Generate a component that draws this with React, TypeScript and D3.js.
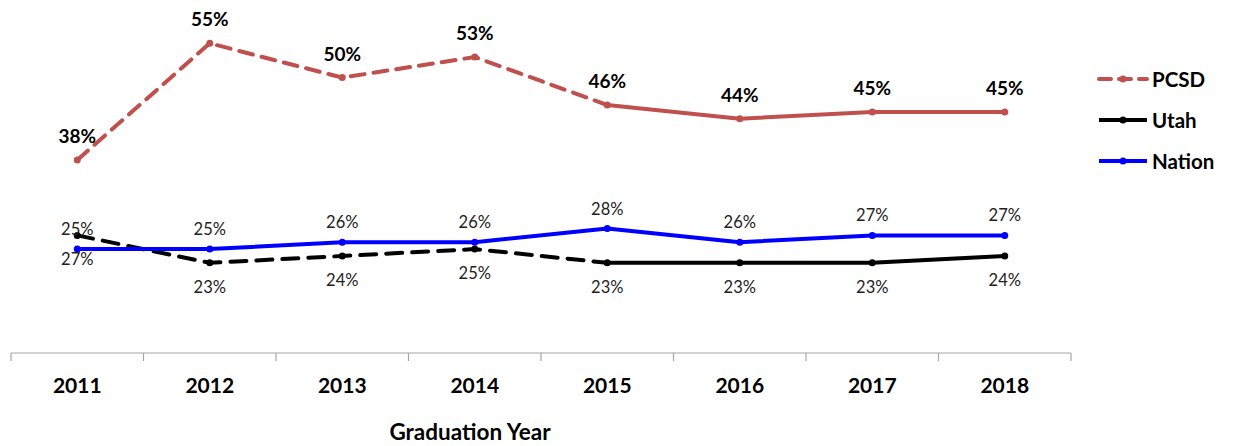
import React from "react";
import * as d3 from "d3";

const years = ["2011", "2012", "2013", "2014", "2015", "2016", "2017", "2018"];
const pcsd = [38, 55, 50, 53, 46, 44, 45, 45];
const utah = [27, 23, 24, 25, 23, 23, 23, 24];
const nation = [25, 25, 26, 26, 28, 26, 27, 27];
const dashedUntil = "2015"; // segments before this year are dashed
const seriesNames = ["PCSD", "Utah", "Nation"];
const xTitle = "Graduation Year";

const W = 1234;
const H = 446;
const FONT = "Lato, 'Open Sans', 'Liberation Sans', sans-serif";

type Series = {
  name: string;
  values: number[];
  color: string;
  width: number;
  dash: string | null;
  labelPos: "above" | "below";
  labelBold: boolean;
  labelSize: number;
  labelOffset: number;
};

export default function App() {
  const x = d3.scaleBand<string>().domain(years).range([11, 1071]);
  const y = d3.scaleLinear().domain([10, 60]).range([352, 9]);
  const cx = (yr: string) => (x(yr) as number) + x.bandwidth() / 2;

  const series: Series[] = [
    { name: seriesNames[0], values: pcsd, color: "#C0504D", width: 4, dash: "14,9", labelPos: "above", labelBold: true, labelSize: 19, labelOffset: 17 },
    { name: seriesNames[1], values: utah, color: "#000000", width: 4, dash: "16,10", labelPos: "below", labelBold: false, labelSize: 16.5, labelOffset: 30 },
    { name: seriesNames[2], values: nation, color: "#0000FF", width: 4, dash: null, labelPos: "above", labelBold: false, labelSize: 16.5, labelOffset: 14 },
  ];
  const cut = years.indexOf(dashedUntil);
  const line = d3
    .line<[number, number]>()
    .x((d) => d[0])
    .y((d) => d[1]);

  const ticks = [...years.map((yr) => x(yr) as number), 1071];

  return (
    <svg width={W} height={H} style={{ position: "absolute", left: 0, top: 0 }}>
      <rect width={W} height={H} fill="#fff" />
      {/* axis */}
      <line x1={11} x2={1071} y1={353} y2={353} stroke="#A6A6A6" strokeWidth={1.2} />
      {ticks.map((t, i) => (
        <line key={i} x1={t} x2={t} y1={353} y2={361} stroke="#A6A6A6" strokeWidth={1.2} />
      ))}
      {years.map((yr) => (
        <text key={yr} x={cx(yr)} y={393} textAnchor="middle" fontFamily={FONT} fontWeight="bold" fontSize={21} fill="#000">
          {yr}
        </text>
      ))}
      <text x={470} y={440} textAnchor="middle" fontFamily={FONT} fontWeight="bold" fontSize={22.5} fill="#000">
        {xTitle}
      </text>
      {/* lines */}
      {series.map((s) => {
        const pts: [number, number][] = s.values.map((v, i) => [cx(years[i]), y(v)]);
        const dashedPts = pts.slice(0, cut + 1);
        const solidPts = pts.slice(cut);
        return (
          <g key={s.name}>
            {s.dash ? (
              <>
                <path d={line(dashedPts) || ""} fill="none" stroke={s.color} strokeWidth={s.width} strokeDasharray={s.dash} strokeLinecap="round" strokeLinejoin="round" />
                <path d={line(solidPts) || ""} fill="none" stroke={s.color} strokeWidth={s.width} strokeLinejoin="round" />
              </>
            ) : (
              <path d={line(pts) || ""} fill="none" stroke={s.color} strokeWidth={s.width} strokeLinejoin="round" />
            )}
            {pts.map((p, i) => (
              <circle key={i} cx={p[0]} cy={p[1]} r={3.5} fill={s.color} />
            ))}
          </g>
        );
      })}
      {/* labels */}
      {series.map((s) => (
        <g key={s.name + "-lab"}>
          {s.values.map((v, i) => (
            <text
              key={i}
              x={cx(years[i])}
              y={s.labelPos === "above" ? y(v) - s.labelOffset : y(v) + s.labelOffset}
              textAnchor="middle"
              fontFamily={FONT}
              fontWeight={s.labelBold ? "bold" : "normal"}
              fontSize={s.labelSize}
              fill={s.labelBold ? "#000" : "#222"}
            >
              {v}%
            </text>
          ))}
        </g>
      ))}
      {/* legend */}
      {series.map((s, i) => {
        const ly = 79 + i * 41;
        return (
          <g key={s.name + "-leg"}>
            <line x1={1099} x2={1147} y1={ly} y2={ly} stroke={s.color} strokeWidth={4} strokeDasharray={i === 0 ? "12,8" : undefined} strokeLinecap={i === 0 ? "round" : "butt"} />
            <circle cx={1123} cy={ly} r={3.5} fill={s.color} />
            <text x={1152} y={ly + 8} fontFamily={FONT} fontWeight="bold" fontSize={20.5} fill="#000">
              {s.name}
            </text>
          </g>
        );
      })}
    </svg>
  );
}
